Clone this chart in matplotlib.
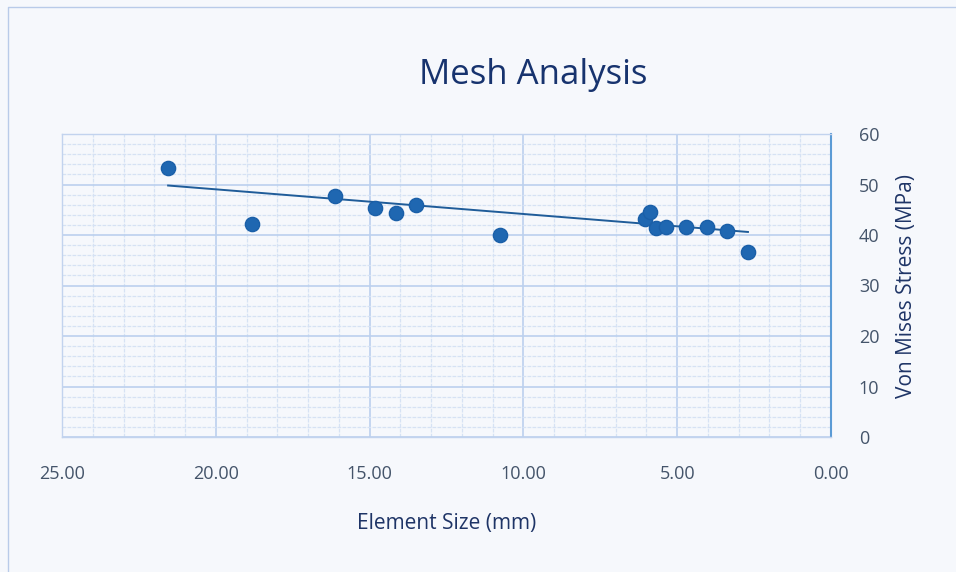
import numpy as np
import matplotlib.pyplot as plt
from matplotlib.ticker import MultipleLocator, FormatStrFormatter
from matplotlib.lines import Line2D

element_size = [21.55, 18.82, 16.12, 14.82, 14.14, 13.49, 10.76, 6.05, 5.88, 5.69, 5.36, 4.71, 4.03, 3.38, 2.70]
stress = [53.3, 42.2, 47.7, 45.3, 44.4, 45.9, 40.0, 43.2, 44.6, 41.4, 41.6, 41.6, 41.6, 40.8, 36.6]

# trendline endpoints as drawn in the chart
trend_x = [21.55, 2.70]
trend_y = [49.8, 40.6]

x_ticks = [25, 20, 15, 10, 5, 0]
y_ticks = [0, 10, 20, 30, 40, 50, 60]

plt.rcParams['font.family'] = ['Open Sans', 'DejaVu Sans']

bg = '#f6f8fc'
fig = plt.figure(figsize=(9.56, 5.72), dpi=100, facecolor=bg)
# outer chart border (left and top edges visible)
fig.lines.append(Line2D([8/956, 8/956, 1.0], [0.0, 1-7/572, 1-7/572], transform=fig.transFigure,
                        color='#b9cbe9', lw=1.0))

ax = fig.add_axes([62/956, 1-437/572, (831-62)/956, (437-134)/572])
ax.set_facecolor(bg)
ax.set_xlim(25, 0)
ax.set_ylim(0, 60)
ax.xaxis.set_minor_locator(MultipleLocator(1))
ax.yaxis.set_minor_locator(MultipleLocator(2))
ax.set_xticks(x_ticks)
ax.set_yticks(y_ticks)
ax.xaxis.set_major_formatter(FormatStrFormatter('%.2f'))
ax.grid(which='major', color='#bcd0ee', lw=1.2)
ax.grid(which='minor', color='#d6e2f4', lw=0.9, ls=(0, (3, 1)))
ax.set_axisbelow(True)

for s in ['top', 'left', 'bottom']:
    ax.spines[s].set_color('#c2d3ee')
    ax.spines[s].set_linewidth(1.0)
ax.spines['right'].set_color('#5b9bd5')
ax.spines['right'].set_linewidth(1.5)

ax.yaxis.tick_right()
ax.yaxis.set_label_position('right')
ax.tick_params(axis='both', which='both', length=0, labelsize=13, labelcolor='#44546a')
ax.tick_params(axis='x', pad=20)
ax.tick_params(axis='y', pad=20)

ax.plot(trend_x, trend_y, color='#1f5c99', lw=1.4, zorder=3)
ax.scatter(element_size, stress, s=105, color='#1f67b1', edgecolor='#1a5fa8', zorder=4)

ax.set_xlabel('Element Size (mm)', fontsize=15, color='#1e3466', labelpad=22)
ax.set_ylabel('Von Mises Stress (MPa)', fontsize=15, color='#1e3466', labelpad=12)

fig.text(533/956, 1-75/572, 'Mesh Analysis', ha='center', va='center', fontsize=25, color='#17336e')

fig.savefig('out.png', dpi=100, facecolor=bg)
